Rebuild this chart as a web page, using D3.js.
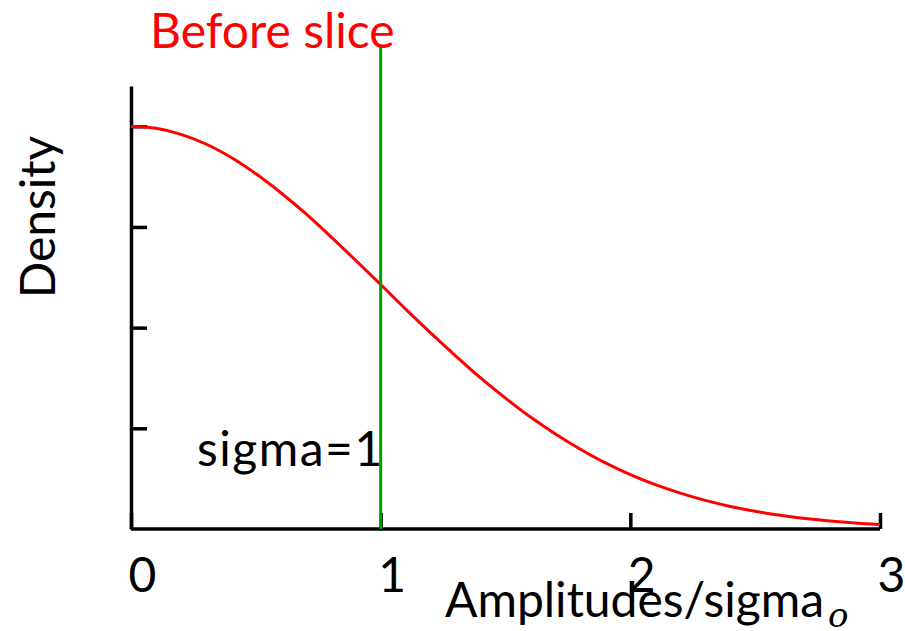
<!DOCTYPE html>
<html>
<head>
<meta charset="utf-8">
<script src="https://cdn.jsdelivr.net/npm/d3@7"></script>
<style>
  body { margin: 0; background: #fff; }
  text { font-family: Lato, "DejaVu Sans", sans-serif; }
</style>
</head>
<body>
<div id="chart"></div>
<script>
// curve
var amp = [0, 0.1, 0.2, 0.3, 0.4, 0.5, 0.6, 0.7, 0.8, 0.9, 1.0,
           1.1, 1.2, 1.3, 1.4, 1.5, 1.6, 1.7, 1.8, 1.9, 2.0,
           2.1, 2.2, 2.3, 2.4, 2.5, 2.6, 2.7, 2.8, 2.9, 3.0];
var density = [1.000, 0.995, 0.980, 0.956, 0.923, 0.882, 0.835, 0.783, 0.726, 0.667, 0.607,
               0.546, 0.487, 0.430, 0.375, 0.325, 0.278, 0.236, 0.198, 0.164, 0.135,
               0.110, 0.089, 0.071, 0.056, 0.044, 0.034, 0.026, 0.020, 0.015, 0.011];
var xTicks = [0, 1, 2, 3];
var yTicks = [0.25, 0.5, 0.75, 1.0];
var sliceAt = 1;

var margin = {top: 86, right: 25, bottom: 102, left: 131},
    width = 905 - margin.left - margin.right,
    height = 631 - margin.top - margin.bottom;

var svg = d3.select("#chart").append("svg")
    .attr("width", 905)
    .attr("height", 631);

var g = svg.append("g")
    .attr("transform", "translate(" + margin.left + "," + margin.top + ")");

var x = d3.scaleLinear().domain([0, 3]).range([0, 749]);
var y = d3.scaleLinear().domain([0, 1.1]).range([height, 0]);

// y axis, ticks pointing inwards, no labels
var yAxis = g.append("g")
    .call(d3.axisLeft(y).tickValues(yTicks).tickSizeInner(-16).tickSizeOuter(0).tickFormat(""));
yAxis.select(".domain").attr("stroke-width", 3.5);
yAxis.selectAll(".tick line").attr("stroke-width", 3.5);

// x axis
var xAxis = g.append("g")
    .attr("transform", "translate(0," + height + ")")
    .call(d3.axisBottom(x).tickValues(xTicks).tickSizeInner(-16).tickSizeOuter(0).tickFormat(d3.format("d")));
xAxis.select(".domain").attr("stroke-width", 3.5).attr("d", "M0,0H" + x(3));
xAxis.selectAll(".tick line").attr("stroke-width", 3.5);
xAxis.selectAll(".tick text")
    .attr("text-anchor", "start")
    .attr("x", -3)
    .attr("y", 0)
    .attr("dy", 63)
    .style("font-size", "48px")
    .attr("fill", "#000");

// the curve
var line = d3.line()
    .x(function(d, i) { return x(amp[i]); })
    .y(function(d) { return y(d); })
    .curve(d3.curveCatmullRom);

g.append("path")
    .datum(density)
    .attr("fill", "none")
    .attr("stroke", "#ff0000")
    .attr("stroke-width", 3)
    .attr("d", line);

// slice marker
g.append("line")
    .attr("x1", x(sliceAt)).attr("x2", x(sliceAt))
    .attr("y1", -41).attr("y2", height)
    .attr("stroke", "#00a000")
    .attr("stroke-width", 3);

// texts
svg.append("text")
    .attr("x", 150).attr("y", 48)
    .attr("fill", "#ff0000")
    .style("font-size", "48px")
    .text("Before slice");

svg.append("text")
    .attr("x", 197).attr("y", 466)
    .style("font-size", "48px")
    .style("letter-spacing", "1.5px")
    .text("sigma=1");

svg.append("text")
    .attr("transform", "translate(55,217) rotate(-90)")
    .attr("text-anchor", "middle")
    .style("font-size", "48px")
    .text("Density");

var xl = svg.append("text")
    .attr("x", 445).attr("y", 617)
    .style("font-size", "48px")
    .text("Amplitudes/sigma");
xl.append("tspan")
    .attr("dx", 4)
    .attr("dy", 10)
    .style("font-size", "34px")
    .style("font-style", "italic")
    .style("font-family", "'DejaVu Serif', serif")
    .text("o");
</script>
</body>
</html>
